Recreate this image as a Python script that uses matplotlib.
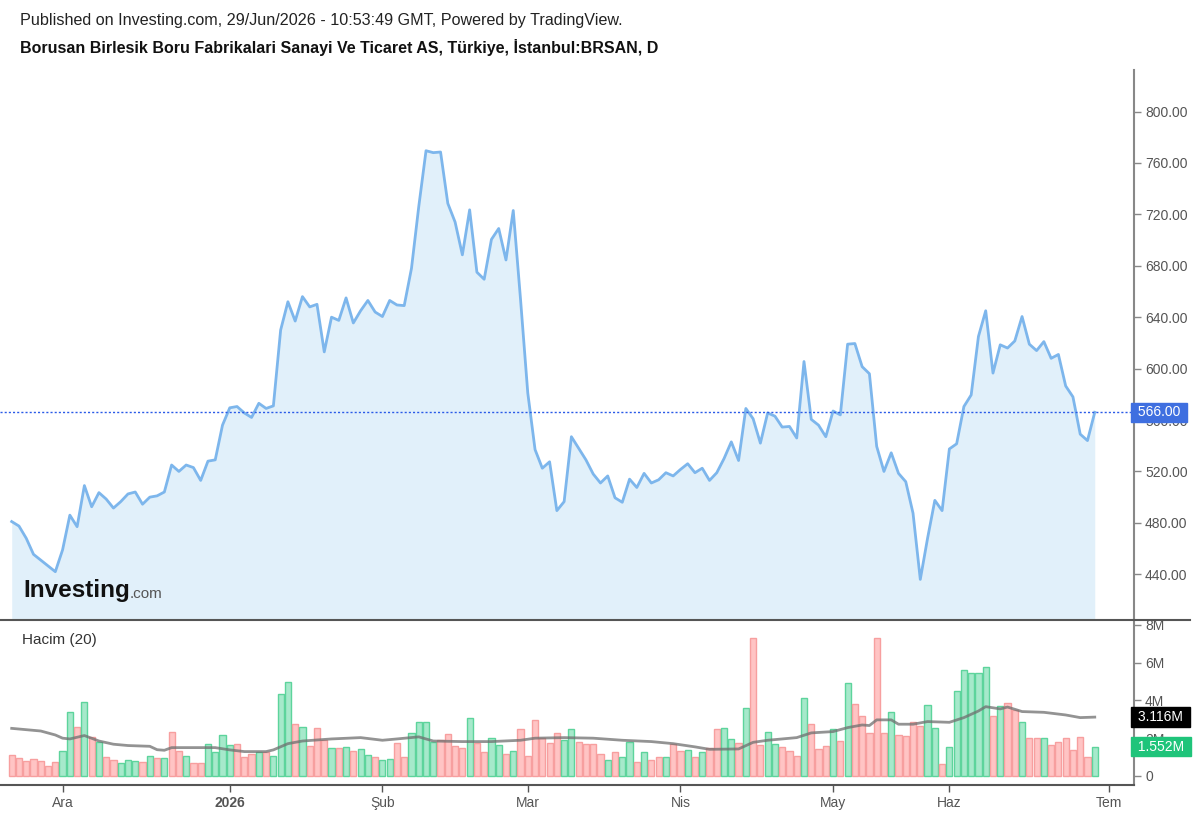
import numpy as np
import matplotlib.pyplot as plt
from matplotlib.lines import Line2D

plt.rcParams['font.family'] = ['Liberation Sans', 'DejaVu Sans']

# gunluk kapanis (bar sirasi 0 = 20 Kas 2025, 149 = 29 Haz 2026)
price = [481, 477.5, 468, 455.5, 451, 446.5, 442, 459, 486, 477,
         509, 492.5, 503.5, 498.5, 491.5, 496.5, 502.5, 504, 494.5, 500,
         501, 504, 525, 520, 525, 523, 513, 528, 529, 556,
         569.5, 570.5, 565.5, 562, 573, 569, 571, 630, 652, 637,
         656, 648, 650, 613, 640, 637.5, 655, 635.5, 645, 653,
         644, 640.5, 653, 649.5, 649, 678, 726, 769.5, 768, 768.5,
         728.5, 714, 688.5, 723.5, 675, 669.5, 700.5, 709, 684.5, 723,
         654, 581, 537, 522.5, 527.5, 489.5, 496.5, 547, 538, 529,
         518, 511, 516.5, 499.5, 496, 514, 507.5, 518.5, 511, 513.5,
         519, 516.5, 521.5, 526, 519, 522.5, 513, 519, 530, 543,
         528.5, 569, 561, 542, 565.5, 563, 554.5, 555, 546, 605.5,
         560.5, 556, 547, 567, 564, 619, 619.5, 601.5, 596, 539.5,
         520, 534.5, 518.5, 512, 487.5, 436, 468, 497.5, 489.5, 537.5,
         541.5, 570.5, 579.5, 625, 645, 596.5, 618.5, 616, 621.5, 640.5,
         619, 614, 621, 608, 611, 586.5, 578, 549, 544, 566]

# hacim (milyon)
volume = [1.11, 0.94, 0.81, 0.92, 0.81, 0.55, 0.74, 1.31, 3.37, 2.60,
          3.94, 2.08, 1.82, 0.99, 0.87, 0.67, 0.87, 0.81, 0.74, 1.04,
          0.94, 0.94, 2.35, 1.31, 1.04, 0.67, 0.67, 1.69, 1.27, 2.15,
          1.62, 1.69, 0.99, 1.18, 1.27, 1.29, 1.04, 4.33, 4.96, 2.74,
          2.58, 1.57, 2.52, 1.89, 1.50, 1.50, 1.55, 1.31, 1.43, 1.11,
          0.99, 0.85, 0.92, 1.73, 0.99, 2.26, 2.84, 2.84, 1.82, 1.89,
          2.21, 1.57, 1.50, 3.09, 1.75, 1.25, 2.01, 1.62, 1.18, 1.31,
          2.47, 1.06, 2.97, 2.01, 1.77, 2.26, 1.89, 2.47, 1.82, 1.69,
          1.69, 1.18, 0.87, 1.25, 0.99, 1.82, 0.74, 1.25, 0.87, 0.99,
          0.99, 1.69, 1.31, 1.38, 0.99, 1.25, 1.50, 2.47, 2.52, 1.94,
          1.77, 3.62, 7.29, 1.62, 2.33, 1.69, 1.52, 1.32, 1.06, 4.15,
          2.74, 1.45, 1.59, 2.47, 1.84, 4.91, 3.81, 3.18, 2.28, 7.29,
          2.28, 3.37, 2.17, 2.10, 2.84, 2.67, 3.74, 2.52, 0.62, 1.55,
          4.50, 5.61, 5.47, 5.47, 5.79, 3.18, 3.71, 3.88, 3.50, 2.84,
          2.00, 2.00, 2.00, 1.64, 1.82, 2.00, 1.38, 2.08, 0.99, 1.552]

# bar renkleri: g = yukselis, r = dusus
vol_dir = ("rrrrrrrggrgrgrrgggrgrgrrgrrggggrrrgrgggrgrrrgrgrggrggrrggggrrrrgrrggrg"
           "rrrrrrggrrrrgrggrgrrgrrgrgrrggrgrrggrrrgrrrgrgrrrrrgrrrrggrggggggrgrrgrrgrrrrrrg")

# hacim 20 gunluk ortalama (grafikten okunan noktalar)
ma_idx = [0, 2, 4, 6, 7, 8, 10, 12, 14, 16, 19, 20, 21, 22, 28, 30, 32, 35, 36, 38,
          40, 44, 48, 51, 53, 56, 58, 62, 66, 70, 72, 76, 80, 84, 88, 91, 94, 96, 100, 102,
          104, 106, 108, 110, 113, 115, 117, 118, 119, 121, 122, 124, 126, 129, 131, 133, 134, 136, 137, 139,
          142, 145, 147, 149]
ma_val = [2.52, 2.45, 2.38, 2.17, 2.00, 1.96, 2.14, 1.85, 1.68, 1.61, 1.57, 1.39, 1.36, 1.50, 1.50, 1.38, 1.29, 1.29, 1.38, 1.71,
          1.85, 1.96, 2.03, 1.89, 1.96, 2.07, 1.85, 1.82, 1.82, 1.89, 2.00, 2.03, 2.00, 1.89, 1.82, 1.71, 1.54, 1.41, 1.43, 1.78,
          1.89, 1.96, 2.03, 2.28, 2.35, 2.56, 2.70, 2.67, 2.97, 2.97, 2.74, 2.74, 2.88, 2.84, 3.09, 3.44, 3.67, 3.55, 3.65, 3.41,
          3.37, 3.23, 3.09, 3.116]

month_pos = [7, 30, 51, 71, 92, 113, 129, 151]
month_lbl = ['Ara', '2026', 'Şub', 'Mar', 'Nis', 'May', 'Haz', 'Tem']

price_ticks = [440, 480, 520, 560, 600, 640, 680, 720, 760, 800]
vol_ticks = [0, 2, 4, 6, 8]
vol_tick_lbl = ['0', '2M', '4M', '6M', '8M']

last_price = 566.0
last_ma = 3.116
last_vol = 1.552

x = np.arange(len(price))
W, H = 1200, 814
fig = plt.figure(figsize=(12, 8.14), dpi=100)

ax1 = fig.add_axes([0, 1 - 619 / H, 1134 / W, (619 - 70) / H])
ax2 = fig.add_axes([0, 1 - 785 / H, 1134 / W, (785 - 620) / H])

xlim = (-1.61, 154.4)
tick_col = '#555555'

# fiyat paneli
ax1.fill_between(x, price, 405, color='#e1f0fa', lw=0)
ax1.plot(x, price, color='#7db6ec', lw=2)
ax1.axhline(last_price, color='#2a5be8', ls=(0, (1.5, 1.5)), lw=1)
ax1.set_xlim(*xlim)
ax1.set_ylim(405.2, 832.3)
ax1.yaxis.tick_right()
ax1.set_yticks(price_ticks)
ax1.set_yticklabels(['%.2f' % v for v in price_ticks])
ax1.tick_params(axis='y', length=5, width=1, color='#888888', labelcolor=tick_col,
                labelsize=10, pad=3)
ax1.set_xticks([])
for s in ['left', 'top', 'bottom']:
    ax1.spines[s].set_visible(False)
ax1.spines['right'].set_color('#888888')
ax1.spines['right'].set_linewidth(1.5)
ax1.text(1.0, last_price, ' 566.00 ', transform=ax1.get_yaxis_transform(),
         ha='left', va='center', color='white', fontsize=10, zorder=10, clip_on=False,
         bbox=dict(boxstyle='square,pad=0.2', fc='#3f6fe0', ec='#3f6fe0'))

# logo
ax1.text(0.021, 0.052, 'Investing', transform=ax1.transAxes, fontsize=17.5,
         fontweight='bold', color='#111111', va='center', ha='left')
ax1.text(0.1145, 0.046, '.com', transform=ax1.transAxes, fontsize=11,
         color='#555555', va='center', ha='left')

# hacim paneli
cols = ['#a6e9cb' if c == 'g' else '#ffc4c4' for c in vol_dir]
edges = ['#5dd49c' if c == 'g' else '#f79f9f' for c in vol_dir]
ax2.bar(x, volume, width=0.85, color=cols, edgecolor=edges, linewidth=1)
ax2.plot(ma_idx, ma_val, color='#6f6f6f', lw=2, alpha=0.75)
ax2.set_xlim(*xlim)
ax2.set_ylim(-0.48, 8.26)
ax2.yaxis.tick_right()
ax2.set_yticks(vol_ticks)
ax2.set_yticklabels(vol_tick_lbl)
ax2.tick_params(axis='y', length=5, width=1, color='#888888', labelcolor=tick_col,
                labelsize=10, pad=3)
ax2.set_xticks(month_pos)
ax2.set_xticklabels(month_lbl)
ax2.tick_params(axis='x', length=5, width=1, color='#555555', labelcolor=tick_col,
                labelsize=10, pad=3)
ax2.get_xticklabels()[1].set_fontweight('bold')
for s in ['left', 'top']:
    ax2.spines[s].set_visible(False)
ax2.spines['right'].set_color('#888888')
ax2.spines['right'].set_linewidth(1.5)
ax2.spines['bottom'].set_color('#555555')
ax2.spines['bottom'].set_linewidth(1.5)
ax2.text(0.019, 0.88, 'Hacim (20)', transform=ax2.transAxes, fontsize=11,
         color='#333333', va='center', ha='left')
ax2.text(1.0, last_ma, ' 3.116M ', transform=ax2.get_yaxis_transform(),
         ha='left', va='center', color='white', fontsize=10, zorder=10, clip_on=False,
         bbox=dict(boxstyle='square,pad=0.2', fc='#000000', ec='#000000'))
ax2.text(1.0, last_vol, ' 1.552M ', transform=ax2.get_yaxis_transform(),
         ha='left', va='center', color='white', fontsize=10, zorder=10, clip_on=False,
         bbox=dict(boxstyle='square,pad=0.2', fc='#1fc47a', ec='#1fc47a'))

# paneller arasi cizgi
fig.add_artist(Line2D([0, 1190 / W], [1 - 619.5 / H, 1 - 619.5 / H], color='#555555', lw=1.5))

# basliklar
fig.text(20 / W, 1 - 20 / H, 'Published on Investing.com, 29/Jun/2026 - 10:53:49 GMT, Powered by TradingView.',
         fontsize=11.6, color='#222222', va='center', ha='left')
fig.text(20 / W, 1 - 48 / H, 'Borusan Birlesik Boru Fabrikalari Sanayi Ve Ticaret AS, Türkiye, İstanbul:BRSAN, D',
         fontsize=11.5, fontweight='bold', color='#111111', va='center', ha='left')

fig.savefig('out.png', dpi=100, facecolor='white')
